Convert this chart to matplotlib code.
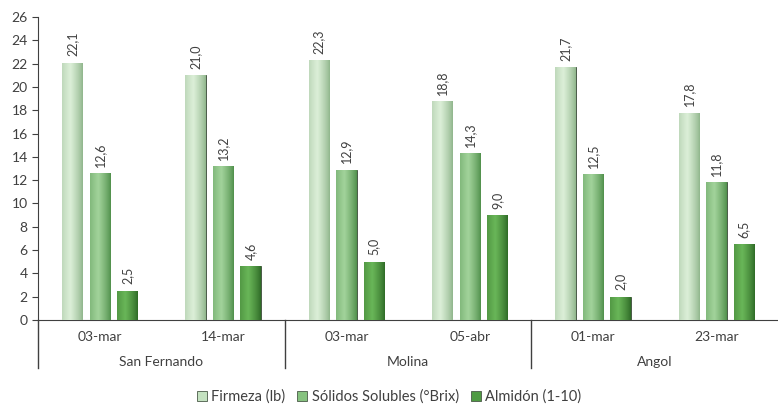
import matplotlib
matplotlib.use('Agg')
import numpy as np
import matplotlib.pyplot as plt
from matplotlib.colors import LinearSegmentedColormap
from matplotlib.patches import Patch
from matplotlib.transforms import blended_transform_factory

plt.rcParams['font.family'] = ['Lato', 'DejaVu Sans']

dates = ['03-mar', '14-mar', '03-mar', '05-abr', '01-mar', '23-mar']
places = ['San Fernando', 'Molina', 'Angol']
series = ['Firmeza (lb)', 'Sólidos Solubles (°Brix)', 'Almidón (1-10)']
firmeza = [22.1, 21.0, 22.3, 18.8, 21.7, 17.8]
solidos = [12.6, 13.2, 12.9, 14.3, 12.5, 11.8]
almidon = [2.5, 4.6, 5.0, 9.0, 2.0, 6.5]

# edge colour, centre colour for each series
shades = [('#8fb58b', '#dcefd8'), ('#4f8f4a', '#a2d39b'), ('#2e6a26', '#69b658')]
legend_cols = ['#c4e2c0', '#86c27f', '#4f9b43']

fig = plt.figure(figsize=(7.78, 4.08), dpi=100)
ax = fig.add_axes([0.049, 0.216, 0.951, 0.742])

x = np.arange(len(dates))
step = 0.223
width = 0.165

# horizontal shading across each bar, darker at the right side
prof = np.linspace(0, 1, 64)
grad = np.where(prof < 0.4, 0.55 + 0.45 * prof / 0.4, 1 - (prof - 0.4) / 0.6)
grad = np.clip(grad, 0, 1) ** 0.8
grad = np.tile(grad, (2, 1))

for i, vals in enumerate([firmeza, solidos, almidon]):
    cmap = LinearSegmentedColormap.from_list('s%d' % i, list(shades[i]))
    xs = x + (i - 1) * step
    bars = ax.bar(xs, vals, width, color=legend_cols[i], edgecolor='#4a5a48', linewidth=0.7, zorder=2)
    for b, v in zip(bars, vals):
        x0 = b.get_x()
        im = ax.imshow(grad, cmap=cmap, aspect='auto', extent=[x0, x0 + width, 0, v],
                       interpolation='bilinear', zorder=3, vmin=0, vmax=1)
        im.set_clip_path(b)
        ax.text(x0 + width / 2, v + 0.55, ('%.1f' % v).replace('.', ','), rotation=90,
                ha='center', va='bottom', fontsize=9, color='#404040', zorder=4)

ax.set_xlim(-0.5, len(dates) - 0.5)
ax.set_ylim(0, 26)
ax.set_yticks(range(0, 27, 2))
ax.tick_params(axis='y', labelsize=10, labelcolor='#404040', length=4, color='#404040')
ax.set_xticks([])
for s in ['top', 'right']:
    ax.spines[s].set_visible(False)
ax.spines['left'].set_color('#404040')
ax.spines['bottom'].set_color('#404040')

# two-level category axis
tr = blended_transform_factory(ax.transData, ax.transAxes)
for i, d in enumerate(dates):
    ax.text(i, -0.055, d, transform=tr, ha='center', va='center', fontsize=10, color='#404040')
for j, p in enumerate(places):
    ax.text(2 * j + 0.5, -0.14, p, transform=tr, ha='center', va='center', fontsize=10, color='#404040')
for xb in [-0.5, 1.5, 3.5]:
    ax.plot([xb, xb], [0, -0.158], transform=tr, color='#404040', lw=1, clip_on=False)

handles = [Patch(facecolor=c, edgecolor='#4a5a48', linewidth=0.6) for c in legend_cols]
fig.legend(handles, series, loc='center', bbox_to_anchor=(0.5, 0.028), ncol=3, frameon=False,
           fontsize=10.5, handlelength=0.7, handleheight=0.7, handletextpad=0.3, columnspacing=0.8,
           labelcolor='#404040')

fig.savefig('out.png', dpi=100)
